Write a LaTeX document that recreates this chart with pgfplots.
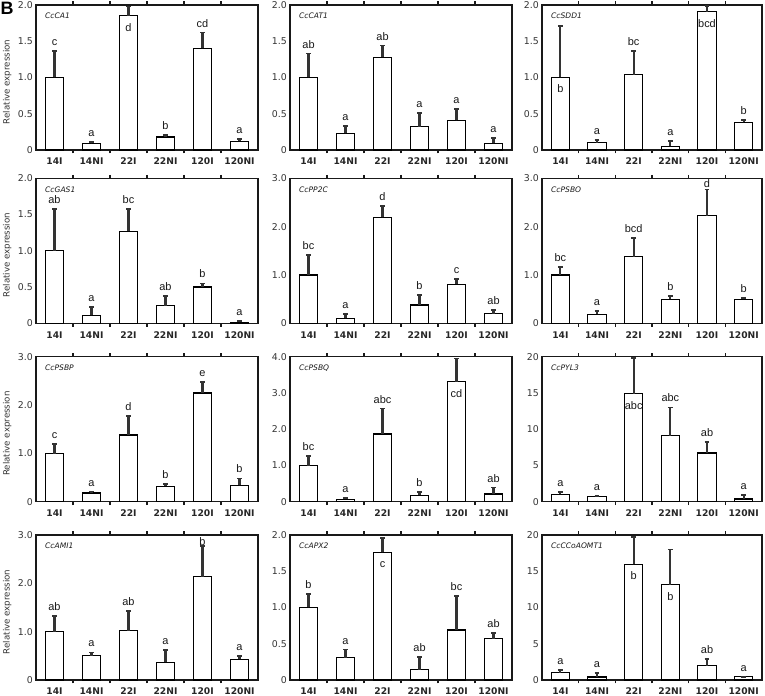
\documentclass[border=0pt]{standalone}
\usepackage{pgfplots}
\pgfplotsset{compat=1.18}
\usepackage{fontspec}
\setmainfont{DejaVu Sans}
\newfontfamily\arialf{Liberation Sans}
\definecolor{txt}{HTML}{333333}
\newcommand{\labfont}{\arialf\fontsize{11}{11}\selectfont}
\newcommand{\la}[3]{\node[anchor=base,inner sep=0pt,yshift=5.5bp,font=\labfont,text=black!90] at (axis cs:#1,#2) {#3};}
\newcommand{\li}[3]{\node[anchor=base,inner sep=0pt,yshift=-15.5bp,font=\labfont,text=black!90] at (axis cs:#1,#2) {#3};}
\newcommand{\lb}[3]{\node[anchor=base,inner sep=0pt,font=\labfont,text=black!90] at (axis cs:#1,#2) {#3};}
\newcommand{\gn}[1]{\node[anchor=west,inner sep=0pt,font=\itshape\fontsize{7.6}{8}\selectfont,text=black!90] at ([xshift=9bp,yshift=-11bp]rel axis cs:0,1) {#1};}
\pgfplotsset{
  pan/.style={
    scale only axis, height=145bp, width=222bp,
    anchor=north west, clip=false,
    xmin=-0.5, xmax=5.5, ymin=0,
    axis line style={line width=1.4bp, black!90},
    xtick={0,...,5},
    xticklabels={14I,14NI,22I,22NI,120I,120NI},
    major tick length=0pt,
    minor xtick={0.5,1.5,2.5,3.5,4.5},
    minor tick length=3.5bp,
    tick align=inside,
    tick style={line width=1.3bp, black!90},
    xticklabel style={font=\fontsize{9.2}{10}\selectfont\bfseries, inner sep=0pt, yshift=-8bp, text=black!85},
    yticklabel style={font=\fontsize{9.4}{10}\selectfont, inner sep=0pt, xshift=-3bp, text=txt},
    ybar, bar width=0.5,
    every error bar/.append style={line width=2.2bp, draw=black!80},
    /pgf/number format/assume math mode=true,
  },
  yl/.style={ylabel={Relative expression},
    ylabel style={at={(axis description cs:-0.13,0.47)}, anchor=center, font=\fontsize{8.7}{9}\selectfont, text=txt}},
  y2/.style={ymax=2, ytick={0,0.5,1,1.5,2}, yticklabels={0,0.5,1.0,1.5,2.0}},
  y3/.style={ymax=3, ytick={0,1,2,3}, yticklabels={0,1.0,2.0,3.0}},
  y4/.style={ymax=4, ytick={0,1,2,3,4}, yticklabels={0,1.0,2.0,3.0,4.0}},
  y20/.style={ymax=20, ytick={0,5,10,15,20}, yticklabels={0,5,10,15,20}},
  barsty/.style={fill=white, draw=black, line width=1.2bp,
    error bars/.cd, y dir=plus, y explicit,
    error bar style={line width=2.2bp, draw=black!80},
    error mark=-,
    error mark options={rotate=90, line width=1.8bp, draw=black!80, mark size=2.4bp}},
}
\begin{document}
\begin{tikzpicture}
% ---------------- Row 1
\begin{axis}[pan, y2, yl, at={(36bp,691bp)}]
\addplot[barsty] table[y error=e] {
x y e
0 1.00 0.36
1 0.09 0.02
2 1.85 0.13
3 0.18 0.03
4 1.40 0.22
5 0.12 0.03
};
\gn{CcCA1}
\la{0}{1.36}{c}\la{1}{0.11}{a}\li{2}{1.85}{d}\la{3}{0.21}{b}\la{4}{1.62}{cd}\la{5}{0.15}{a}
\end{axis}
\begin{axis}[pan, y2, at={(290bp,691bp)}]
\addplot[barsty] table[y error=e] {
x y e
0 1.00 0.33
1 0.23 0.10
2 1.28 0.16
3 0.32 0.19
4 0.41 0.16
5 0.09 0.08
};
\gn{CcCAT1}
\la{0}{1.33}{ab}\la{1}{0.33}{a}\la{2}{1.44}{ab}\la{3}{0.51}{a}\la{4}{0.57}{a}\la{5}{0.17}{a}
\end{axis}
\begin{axis}[pan, y2, width=220bp, at={(542bp,691bp)}]
\addplot[barsty] table[y error=e] {
x y e
0 1.00 0.71
1 0.10 0.04
2 1.04 0.33
3 0.05 0.07
4 1.91 0.08
5 0.38 0.03
};
\gn{CcSDD1}
\li{0}{1.00}{b}\la{1}{0.14}{a}\la{2}{1.37}{bc}\la{3}{0.12}{a}\li{4}{1.91}{bcd}\la{5}{0.41}{b}
\end{axis}
% ---------------- Row 2
\begin{axis}[pan, y2, yl, at={(36bp,517.7bp)}]
\addplot[barsty] table[y error=e] {
x y e
0 1.00 0.58
1 0.11 0.12
2 1.27 0.31
3 0.24 0.14
4 0.50 0.05
5 0.015 0.015
};
\gn{CcGAS1}
\la{0}{1.58}{ab}\la{1}{0.23}{a}\la{2}{1.58}{bc}\la{3}{0.38}{ab}\la{4}{0.55}{b}\la{5}{0.03}{a}
\end{axis}
\begin{axis}[pan, y3, at={(290bp,517.7bp)}]
\addplot[barsty] table[y error=e] {
x y e
0 1.00 0.42
1 0.10 0.09
2 2.19 0.24
3 0.38 0.20
4 0.81 0.10
5 0.20 0.07
};
\gn{CcPP2C}
\la{0}{1.42}{bc}\la{1}{0.19}{a}\la{2}{2.43}{d}\la{3}{0.58}{b}\la{4}{0.91}{c}\la{5}{0.27}{ab}
\end{axis}
\begin{axis}[pan, y3, width=220bp, at={(542bp,517.7bp)}]
\addplot[barsty] table[y error=e] {
x y e
0 1.00 0.17
1 0.19 0.07
2 1.38 0.39
3 0.50 0.07
4 2.23 0.54
5 0.50 0.03
};
\gn{CcPSBO}
\la{0}{1.17}{bc}\la{1}{0.26}{a}\la{2}{1.77}{bcd}\la{3}{0.57}{b}\lb{4}{2.80}{d}\la{5}{0.53}{b}
\end{axis}
% ---------------- Row 3
\begin{axis}[pan, y3, yl, at={(36bp,339.3bp)}]
\addplot[barsty] table[y error=e] {
x y e
0 0.99 0.20
1 0.18 0.03
2 1.38 0.40
3 0.32 0.05
4 2.25 0.22
5 0.34 0.14
};
\gn{CcPSBP}
\la{0}{1.19}{c}\la{1}{0.21}{a}\la{2}{1.78}{d}\la{3}{0.37}{b}\la{4}{2.47}{e}\la{5}{0.48}{b}
\end{axis}
\begin{axis}[pan, y4, at={(290bp,339.3bp)}]
\addplot[barsty] table[y error=e] {
x y e
0 0.99 0.28
1 0.07 0.03
2 1.87 0.70
3 0.18 0.09
4 3.31 0.64
5 0.21 0.18
};
\gn{CcPSBQ}
\la{0}{1.27}{bc}\la{1}{0.10}{a}\la{2}{2.57}{abc}\la{3}{0.27}{b}\li{4}{3.31}{cd}\la{5}{0.39}{ab}
\end{axis}
\begin{axis}[pan, y20, width=220bp, at={(542bp,339.3bp)}]
\addplot[barsty] table[y error=e] {
x y e
0 1.01 0.32
1 0.69 0.14
2 14.9 4.9
3 9.1 3.9
4 6.71 1.57
5 0.37 0.60
};
\gn{CcPYL3}
\la{0}{1.33}{a}\la{1}{0.83}{a}\li{2}{14.9}{abc}\la{3}{13.0}{abc}\la{4}{8.28}{ab}\la{5}{0.97}{a}
\end{axis}
% ---------------- Row 4
\begin{axis}[pan, y3, yl, at={(36bp,161bp)}]
\addplot[barsty] table[y error=e] {
x y e
0 1.00 0.32
1 0.50 0.07
2 1.02 0.40
3 0.37 0.25
4 2.14 0.64
5 0.43 0.06
};
\gn{CcAMI1}
\la{0}{1.32}{ab}\la{1}{0.57}{a}\la{2}{1.42}{ab}\la{3}{0.62}{a}\lb{4}{2.78}{b}\la{5}{0.49}{a}
\end{axis}
\begin{axis}[pan, y2, at={(290bp,161bp)}]
\addplot[barsty] table[y error=e] {
x y e
0 1.00 0.19
1 0.31 0.11
2 1.76 0.20
3 0.14 0.18
4 0.69 0.47
5 0.57 0.08
};
\gn{CcAPX2}
\la{0}{1.19}{b}\la{1}{0.42}{a}\li{2}{1.76}{c}\la{3}{0.32}{ab}\la{4}{1.16}{bc}\la{5}{0.65}{ab}
\end{axis}
\begin{axis}[pan, y20, width=220bp, at={(542bp,161bp)}]
\addplot[barsty] table[y error=e] {
x y e
0 1.01 0.32
1 0.41 0.56
2 15.95 3.75
3 13.15 4.85
4 1.98 0.92
5 0.46 0.0
};
\gn{CcCCoAOMT1}
\la{0}{1.33}{a}\la{1}{0.97}{a}\li{2}{15.95}{b}\li{3}{13.15}{b}\la{4}{2.90}{ab}\la{5}{0.46}{a}
\end{axis}
\node[anchor=north west, inner sep=0pt, font=\arialf\bfseries\fontsize{18}{18}\selectfont] at (0.5bp,694.5bp) {B};
\pgfresetboundingbox
\path[use as bounding box] (0bp,0bp) rectangle (765bp,696bp);
\end{tikzpicture}
\end{document}
